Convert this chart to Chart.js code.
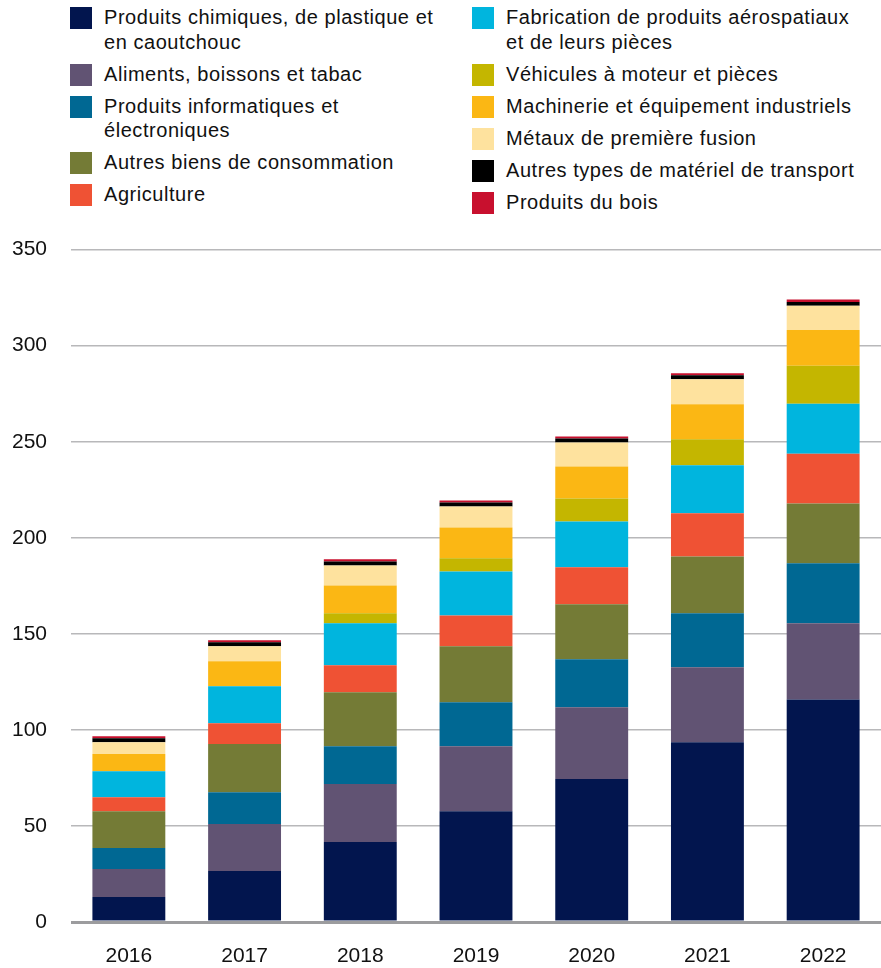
<!DOCTYPE html>
<html>
<head>
<meta charset="utf-8">
<script src="https://cdn.jsdelivr.net/npm/chart.js@4.4.1/dist/chart.umd.min.js"></script>
<style>
  html, body { margin: 0; padding: 0; background: #fff; }
  body { width: 881px; height: 968px; position: relative; overflow: hidden;
         font-family: "Liberation Sans", Arial, sans-serif; color: #111; }
  #legend { position: absolute; left: 70px; top: 5px; width: 811px; }
  .col { position: absolute; top: 0; }
  .item { position: relative; padding-left: 34px; font-size: 20px; letter-spacing: 0.55px;
          line-height: 24.5px; margin-bottom: 7.5px; white-space: nowrap; }
  .box { position: absolute; left: 0; top: 2px; width: 22px; height: 22px; }
  #wrap { position: absolute; left: 0; top: 213px; width: 881px; height: 755px; }
</style>
</head>
<body>
<div id="legend"></div>
<div id="wrap"><canvas id="chart" width="881" height="755"></canvas></div>
<script>
const years = ["2016", "2017", "2018", "2019", "2020", "2021", "2022"];

const chimiques   = [13.0, 26.5, 41.6, 57.7, 74.4, 93.6, 115.8];
const aliments    = [14.6, 24.5, 30.2, 33.8, 37.4, 39.0, 39.7];
const informatique = [10.9, 16.6, 19.7, 22.9, 25.0, 28.1, 31.2];
const consommation = [19.2, 25.0, 28.1, 29.1, 28.6, 29.6, 31.1];
const agriculture = [7.3, 10.9, 14.0, 16.1, 19.2, 22.4, 25.9];
const aerospatial = [13.5, 19.2, 21.9, 22.9, 23.9, 25.0, 26.1];
const vehicules   = [0, 0, 5.2, 6.8, 12.0, 13.6, 19.8];
const machinerie  = [8.9, 13.0, 14.5, 16.1, 16.6, 18.2, 18.5];
const metaux      = [6.2, 7.8, 10.4, 10.9, 12.5, 13.0, 12.7];
const transport   = [2.1, 2.1, 2.1, 2.1, 2.1, 2.1, 1.9];
const bois        = [1.0, 1.0, 1.1, 1.0, 1.0, 1.0, 1.3];

const yTicks = [0, 50, 100, 150, 200, 250, 300, 350];

const series = [
  { label: "Produits chimiques, de plastique et<br>en caoutchouc", data: chimiques, color: "#02154e", col: 0 },
  { label: "Aliments, boissons et tabac", data: aliments, color: "#615373", col: 0 },
  { label: "Produits informatiques et<br>électroniques", data: informatique, color: "#006893", col: 0 },
  { label: "Autres biens de consommation", data: consommation, color: "#747b36", col: 0 },
  { label: "Agriculture", data: agriculture, color: "#ef5234", col: 0 },
  { label: "Fabrication de produits aérospatiaux<br>et de leurs pièces", data: aerospatial, color: "#00b5de", col: 1 },
  { label: "Véhicules à moteur et pièces", data: vehicules, color: "#c4b600", col: 1 },
  { label: "Machinerie et équipement industriels", data: machinerie, color: "#fbb714", col: 1 },
  { label: "Métaux de première fusion", data: metaux, color: "#fee29e", col: 1 },
  { label: "Autres types de matériel de transport", data: transport, color: "#000000", col: 1 },
  { label: "Produits du bois", data: bois, color: "#c8102e", col: 1 }
];

// html legend, two columns
const legend = document.getElementById("legend");
const cols = [0, 1].map((i) => {
  const c = document.createElement("div");
  c.className = "col";
  c.style.left = i === 0 ? "0px" : "402px";
  legend.appendChild(c);
  return c;
});
series.forEach((s) => {
  const it = document.createElement("div");
  it.className = "item";
  it.innerHTML = '<span class="box" style="background:' + s.color + '"></span>' + s.label;
  cols[s.col].appendChild(it);
});

const ctx = document.getElementById("chart").getContext("2d");
new Chart(ctx, {
  type: "bar",
  data: {
    labels: years,
    datasets: series.map((s) => ({
      label: s.label.replace("<br>", " "),
      data: s.data,
      backgroundColor: s.color,
      borderWidth: 0,
      barPercentage: 0.63,
      categoryPercentage: 1.0
    }))
  },
  options: {
    responsive: false,
    animation: false,
    layout: { padding: 0 },
    plugins: {
      legend: { display: false },
      tooltip: { enabled: false }
    },
    scales: {
      x: {
        stacked: true,
        grid: { display: false, drawTicks: false },
        border: { display: false },
        ticks: {
          color: "#111",
          padding: 22,
          font: { family: "Liberation Sans", size: 21 }
        },
        afterFit: (s) => { s.height = 46; }
      },
      y: {
        stacked: true,
        min: 0,
        max: 350,
        afterBuildTicks: (s) => { s.ticks = yTicks.map((v) => ({ value: v })); },
        grid: {
          drawTicks: false,
          color: (c) => (c.tick && c.tick.value === 0 ? "#9c9c9e" : "#b8b8ba"),
          lineWidth: (c) => (c.tick && c.tick.value === 0 ? 3 : 1.5)
        },
        border: { display: false },
        ticks: {
          color: "#111",
          padding: 24,
          font: { family: "Liberation Sans", size: 21 }
        },
        afterFit: (s) => { s.width = 71; }
      }
    }
  }
});
</script>
</body>
</html>
